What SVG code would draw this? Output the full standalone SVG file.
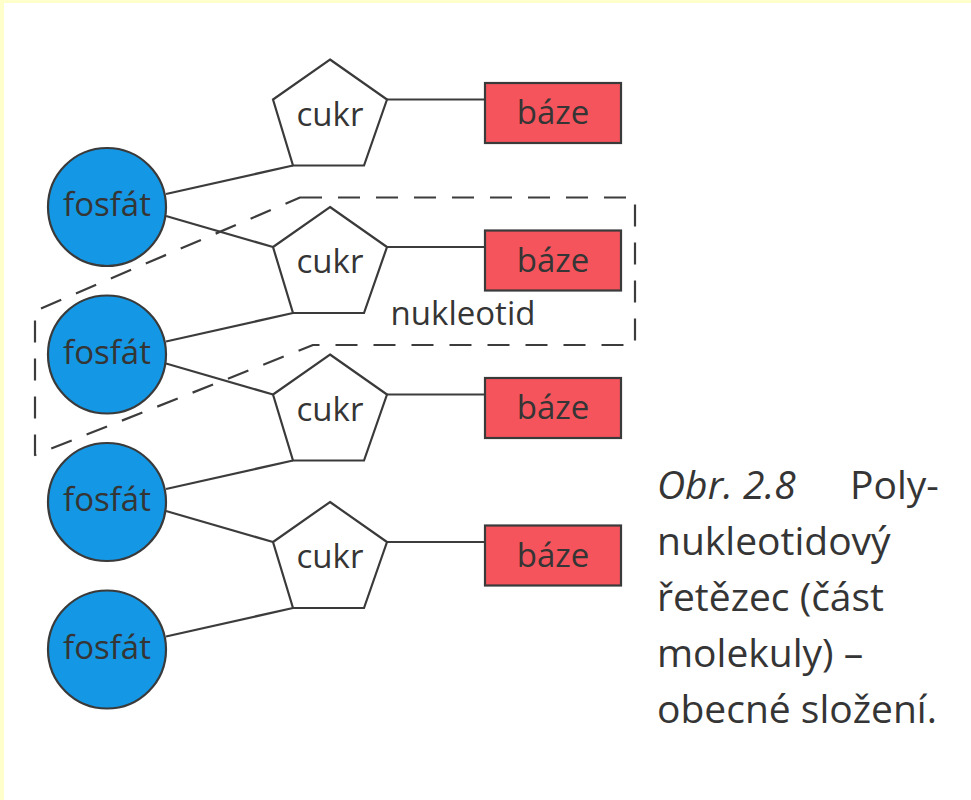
<svg xmlns="http://www.w3.org/2000/svg" width="971" height="800" viewBox="0 0 971 800">
<style>
.bg{fill:#ffffff}
.edge{fill:#ffffcc}
.line{stroke:#3c3c3c;stroke-width:2.2;fill:none}
.fos{fill:#1497e4;stroke:#3a3a3a;stroke-width:2.2}
.cukr{fill:#ffffff;stroke:#3a3a3a;stroke-width:2.2;stroke-linejoin:miter}
.baze{fill:#f5545c;stroke:#3a3a3a;stroke-width:2.2}
.lbl{font-family:"Open Sans","Noto Sans","DejaVu Sans",sans-serif;font-size:33px;fill:#353535;text-anchor:middle}
.cap{font-family:"Open Sans","Noto Sans","DejaVu Sans",sans-serif;font-size:39px;fill:#353535}
.dash{stroke:#3c3c3c;stroke-width:2.2;fill:none;stroke-dasharray:22 16;stroke-linejoin:round}
</style>
<rect class="bg" x="0" y="0" width="971" height="800"/>
<rect class="edge" x="0" y="0" width="971" height="3"/>
<rect class="edge" x="0" y="0" width="4" height="800"/>

<g id="connectors">
  <line class="line" x1="166" y1="194" x2="293" y2="165.5"/>
  <line class="line" x1="166" y1="216" x2="273" y2="247"/>
  <line class="line" x1="166" y1="341.5" x2="293" y2="313"/>
  <line class="line" x1="166" y1="363.5" x2="273" y2="394.5"/>
  <line class="line" x1="166" y1="489" x2="293" y2="460.5"/>
  <line class="line" x1="166" y1="511" x2="273" y2="542"/>
  <line class="line" x1="166" y1="636.5" x2="293" y2="608"/>
  <line class="line" x1="387" y1="99.5" x2="485" y2="99.5"/>
  <line class="line" x1="387" y1="247" x2="485" y2="247"/>
  <line class="line" x1="387" y1="394.5" x2="485" y2="394.5"/>
  <line class="line" x1="387" y1="542" x2="485" y2="542"/>
</g>

<g id="fosfat1"><circle class="fos" cx="107" cy="207" r="59"/><text class="lbl" x="107" y="216">fosfát</text></g>
<g id="fosfat2"><circle class="fos" cx="107" cy="354.5" r="59"/><text class="lbl" x="107" y="363.5">fosfát</text></g>
<g id="fosfat3"><circle class="fos" cx="107" cy="502" r="59"/><text class="lbl" x="107" y="511">fosfát</text></g>
<g id="fosfat4"><circle class="fos" cx="107" cy="649.5" r="59"/><text class="lbl" x="107" y="658.5">fosfát</text></g>

<g id="cukr1"><polygon class="cukr" points="330,59.5 387,99.5 364,165.5 293,165.5 273,99.5"/><text class="lbl" x="330" y="125.5">cukr</text></g>
<g id="cukr2"><polygon class="cukr" points="330,207 387,247 364,313 293,313 273,247"/><text class="lbl" x="330" y="273">cukr</text></g>
<g id="cukr3"><polygon class="cukr" points="330,354.5 387,394.5 364,460.5 293,460.5 273,394.5"/><text class="lbl" x="330" y="420.5">cukr</text></g>
<g id="cukr4"><polygon class="cukr" points="330,502 387,542 364,608 293,608 273,542"/><text class="lbl" x="330" y="568">cukr</text></g>

<g id="baze1"><rect class="baze" x="485" y="83" width="136" height="60"/><text class="lbl" x="553" y="124">báze</text></g>
<g id="baze2"><rect class="baze" x="485" y="230.5" width="136" height="60"/><text class="lbl" x="553" y="271.5">báze</text></g>
<g id="baze3"><rect class="baze" x="485" y="378" width="136" height="60"/><text class="lbl" x="553" y="419">báze</text></g>
<g id="baze4"><rect class="baze" x="485" y="525.5" width="136" height="60"/><text class="lbl" x="553" y="566.5">báze</text></g>

<g id="nukleotid">
  <path class="dash" d="M300,197.5 L635,197.5 L635,345 L313,345 L35,455 L35,311 Z"/>
  <text class="lbl" x="463" y="325">nukleotid</text>
</g>

<g id="caption">
  <text class="cap" x="657" y="499"><tspan font-style="italic">Obr. 2.8</tspan></text>
  <text class="cap" x="850" y="499">Poly-</text>
  <text class="cap" x="657" y="555">nukleotidový</text>
  <text class="cap" x="657" y="611">řetězec (část</text>
  <text class="cap" x="657" y="667">molekuly) –</text>
  <text class="cap" x="657" y="723">obecné složení.</text>
</g>
</svg>
